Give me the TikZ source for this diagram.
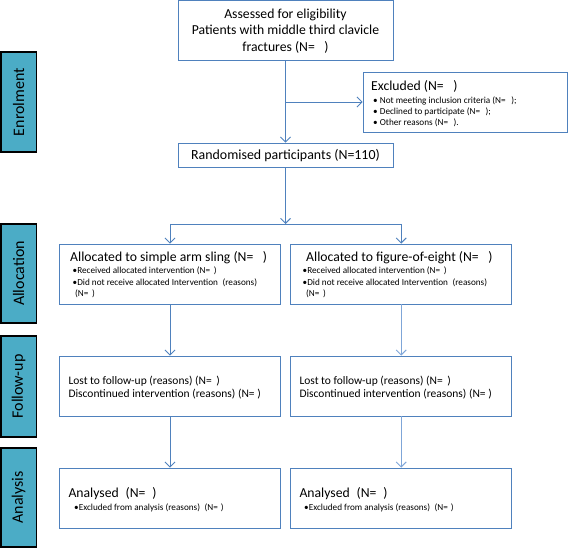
\documentclass[tikz,border=0pt]{standalone}
\usepackage{fontspec}
\setmainfont{Carlito}
\usetikzlibrary{arrows.meta,calc}
\definecolor{boxblue}{HTML}{4F81BD}
\definecolor{lightarrow}{HTML}{7FA6D8}
\definecolor{sidefill}{HTML}{4BACC6}
\begin{document}
\begin{tikzpicture}[x=1pt,y=-1pt,
  box/.style={draw=boxblue, line width=0.9pt, inner sep=0pt, fill=white},
  side/.style={draw=black, line width=1.4pt, fill=sidefill, inner sep=0pt, rotate=90,
    font=\fontsize{16}{18}\selectfont},
  big/.style={inner sep=0pt, anchor=base west, font=\fontsize{13.7}{16}\selectfont},
  mid/.style={inner sep=0pt, anchor=base west, font=\fontsize{11.5}{14}\selectfont},
  small/.style={inner sep=0pt, anchor=base west, font=\fontsize{9.2}{11}\selectfont},
  flow/.style={draw=boxblue, line width=0.9pt, -{Straight Barb[length=5pt,width=10pt]}},
  flowlight/.style={draw=lightarrow, line width=0.9pt, -{Straight Barb[length=5pt,width=10pt]}},
  plain/.style={draw=boxblue, line width=0.9pt},
]
\useasboundingbox (0,0) rectangle (568,548);

% side bars
\node[side, minimum width=100pt, minimum height=35.5pt] (enr) at (18.7,102) {Enrolment};
\node[side, minimum width=99pt, minimum height=35.5pt] (alc) at (18.7,273.5) {Allocation};
\node[side, minimum width=101pt, minimum height=35.5pt] (fol) at (18.7,386.5) {Follow-up};
\node[side, minimum width=99pt, minimum height=35.5pt] (ana) at (18.7,497.5) {Analysis};

% boxes
\node[box, minimum width=215pt, minimum height=59.5pt] (assess) at (285.5,30.25) {};
\node[box, minimum width=204pt, minimum height=60pt] (excl) at (465,102) {};
\node[box, minimum width=215pt, minimum height=24pt] (rand) at (285.5,155) {};
\node[big, anchor=base, font=\fontsize{13.9}{16}\selectfont] (rt) at (285.5,159.8) {Randomised participants (N=110)};
\node[box, minimum width=221.4pt, minimum height=60pt] (allocL) at (170,274) {};
\node[box, minimum width=221pt, minimum height=60pt] (allocR) at (401.2,274) {};
\node[box, minimum width=221.4pt, minimum height=60pt] (follL) at (170,386) {};
\node[box, minimum width=221pt, minimum height=60pt] (follR) at (401.2,386) {};
\node[box, minimum width=221.4pt, minimum height=60pt] (anaL) at (170,498) {};
\node[box, minimum width=221pt, minimum height=60pt] (anaR) at (401.2,498) {};

% texts: assessed
\node[big, anchor=base] (a1) at (285.5,18.5) {Assessed for eligibility};
\node[big, anchor=base] (a2) at (285.5,35) {Patients with middle third clavicle};
\node[big, anchor=base] (a3) at (285.5,51.5) {fractures (N=\hspace{0.7em})};

% excluded
\node[big] (e1) at (371,90.5) {Excluded (N=\hspace{0.7em})};
\node[small] (e2) at (373,103.5) {• Not meeting inclusion criteria (N=\hspace{0.6em});};
\node[small] (e3) at (373,114.5) {• Declined to participate (N=\hspace{0.6em});};
\node[small] (e4) at (373,125.5) {• Other reasons (N=\hspace{0.6em}).};

% allocation left
\node[big] (l1) at (70,261.5) {Allocated to simple arm sling (N=\hspace{0.7em})};
\node[small] (l2) at (72.5,274) {•Received allocated intervention (N=\hspace{0.4em})};
\node[small] (l3) at (72.5,285.5) {•Did not receive allocated Intervention\hspace{0.5em}(reasons)};
\node[small] (l4) at (75,297) {(N=\hspace{0.4em})};

% allocation right
\node[big] (r1) at (306,261.5) {Allocated to figure-of-eight (N=\hspace{0.7em})};
\node[small] (r2) at (302.5,274) {•Received allocated intervention (N=\hspace{0.4em})};
\node[small] (r3) at (302.5,285.5) {•Did not receive allocated Intervention\hspace{0.5em}(reasons)};
\node[small] (r4) at (306,297) {(N=\hspace{0.4em})};

% follow-up
\node[mid] (fl1) at (68.3,384) {Lost to follow-up (reasons) (N=\hspace{0.4em})};
\node[mid] (fl2) at (68.3,397.5) {Discontinued intervention (reasons) (N= )};
\node[mid] (fr1) at (299.3,384) {Lost to follow-up (reasons) (N=\hspace{0.4em})};
\node[mid] (fr2) at (299.3,397.5) {Discontinued intervention (reasons) (N= )};

% analysis
\node[big] (al1) at (68.3,497) {Analysed\hspace{0.5em}(N=\hspace{0.5em})};
\node[small] (al2) at (74,510) {•Excluded from analysis (reasons)\hspace{0.5em}(N=\hspace{0.3em})};
\node[big] (ar1) at (299.3,497) {Analysed\hspace{0.5em}(N=\hspace{0.5em})};
\node[small] (ar2) at (304,510) {•Excluded from analysis (reasons)\hspace{0.5em}(N=\hspace{0.3em})};

% connectors
\draw[flow] (assess.south) -- (rand.north);
\coordinate (bx) at (assess.south |- excl.west);
\draw[flow] (bx) -- (excl.west);
\coordinate (split) at (rand.south |- 0,224);
\draw[flow] (rand.south) -- (split);
\coordinate (sL) at (allocL.north |- split);
\coordinate (sR) at (allocR.north |- split);
\draw[plain] (sL) -- (sR);
\draw[flow] (sL) -- (allocL.north);
\draw[flow] (sR) -- (allocR.north);
\draw[flow] (allocL.south) -- (follL.north);
\draw[flowlight] (allocR.south) -- (follR.north);
\draw[flow] (follL.south) -- (anaL.north);
\draw[flowlight] (follR.south) -- (anaR.north);
\end{tikzpicture}
\end{document}
